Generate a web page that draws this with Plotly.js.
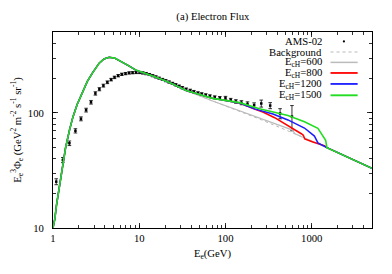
<!DOCTYPE html>
<html>
<head>
<meta charset="utf-8">
<script src="https://cdn.plot.ly/plotly-3.0.1.min.js"></script>
<style>
  html, body { margin: 0; padding: 0; background: #fff; }
  #plot { width: 392px; height: 274px; }
</style>
</head>
<body>
<div id="plot"></div>
<script>
/* AMS-02 electron flux E^3 * Phi */
var amsE = [1.09, 1.30, 1.55, 1.82, 2.11, 2.42, 2.76, 3.10, 3.45, 3.84, 4.27, 4.72, 5.17, 5.70, 6.28, 6.93, 7.63, 8.37, 9.2, 10.1,
  11.0, 12.0, 13.1, 14.3, 15.6, 17.0, 18.6, 20.3, 22.2, 24.3, 26.5, 29.0, 31.6, 35, 39, 43, 48, 53, 59, 66,
  75, 86, 100, 115, 132, 153, 180, 215, 260, 330, 430, 590];
var amsF = [25.3, 39, 54.6, 70, 89, 106, 124, 148, 161, 173, 185, 195, 204, 211, 217, 220, 223, 224, 225, 225,
  223, 220, 216, 211, 206, 201, 196, 191, 186, 181, 176, 171, 166, 161, 157, 153, 149, 146, 143, 140,
  137, 135, 135, 130, 126, 123, 120, 117, 121, 116, 99, 93];
var amsErr = [1.5, 2, 2.5, 3, 3.5, 4, 4.5, 5, 5, 5, 5, 5, 5, 5, 5, 5, 5, 5, 5, 5,
  5, 5, 4.5, 4.5, 4.5, 4, 4, 4, 4, 4, 4, 4, 4, 4, 4, 4, 4, 4, 4, 4,
  4, 4, 4.5, 4, 4.5, 5, 5, 5.5, 8.5, 7, 10, 23];

/* shared low-energy part of the model curves */
var lowE = [1.0, 1.05, 1.1, 1.2, 1.3, 1.4, 1.56, 1.7, 1.9, 2.19, 2.5, 2.86, 3.43, 3.9, 4.48, 5.2, 6.4, 7.5, 9.14, 11, 13.1, 17.1, 22, 28, 35];
var lowF = [10, 12, 16, 25, 36, 50, 72, 92, 118, 148, 188, 222, 271, 295, 305, 300, 278, 258, 236, 225, 214, 199, 185, 170, 157];

var bgE = [71, 146, 248, 552, 865, 1500, 5000];
var bgF = [127, 103, 88.6, 69, 60, 50, 33];

var c600E = [71, 146, 248, 400, 600, 640, 865, 1500, 5000];
var c600F = [127, 104, 90, 79, 71, 66, 60, 50, 33];

var c800E = [71, 146, 217, 271, 372, 424, 530, 757, 800, 830, 1030, 1400, 1500, 5000];
var c800F = [134, 122, 108, 102, 91, 86, 77, 66, 64, 59.5, 56, 52, 50, 33];

var c1200E = [71, 146, 217, 355, 530, 824, 1075, 1180, 1500, 5000];
var c1200F = [134, 122, 108.5, 98, 87, 74, 63, 55, 50, 33];

var c1500E = [71, 146, 248, 530, 824, 1180, 1350, 1450, 1500, 5000];
var c1500F = [134, 123, 109, 95, 84, 73.6, 63, 58, 50, 33];

var legendNames = ['AMS-02', 'Background', 'E<sub>cH</sub>=600', 'E<sub>cH</sub>=800', 'E<sub>cH</sub>=1200', 'E<sub>cH</sub>=1500'];
var legendColors = ['#000000', '#999999', '#bbbbbb', '#ff0000', '#1c1cff', '#22dd22'];

function join(a, b) { return a.concat(b); }

var FONT = 'Liberation Serif, Times New Roman, serif';

var traces = [
  { x: amsE, y: amsF, mode: 'markers', type: 'scatter',
    marker: { color: '#000', size: 2.5, symbol: 'square' },
    error_y: { type: 'data', array: amsErr, visible: true, color: '#000', thickness: 0.8, width: 1.8 } },
  { x: join(lowE, bgE), y: join(lowF, bgF), mode: 'lines', line: { color: legendColors[1], width: 0.7, dash: 'dot' } },
  { x: join(lowE, c600E), y: join(lowF, c600F), mode: 'lines', line: { color: legendColors[2], width: 1.2 } },
  { x: join(lowE, c800E), y: join(lowF, c800F), mode: 'lines', line: { color: legendColors[3], width: 1.5 } },
  { x: join(lowE, c1200E), y: join(lowF, c1200F), mode: 'lines', line: { color: legendColors[4], width: 1.5 } },
  { x: join(lowE, c1500E), y: join(lowF, c1500F), mode: 'lines', line: { color: legendColors[5], width: 1.6 } }
];

/* gnuplot-style key: text right-aligned, sample to its right */
var annotations = [], shapes = [];
var rowY = [0.952, 0.898, 0.845, 0.791, 0.735, 0.677];
legendNames.forEach(function (name, i) {
  annotations.push({ xref: 'paper', yref: 'paper', x: 0.849, y: rowY[i], xanchor: 'right', yanchor: 'middle',
    text: name, showarrow: false, font: { family: FONT, size: 10.7, color: '#000' } });
  if (i === 0) {
    shapes.push({ type: 'circle', xref: 'paper', yref: 'paper', xsizemode: 'pixel', ysizemode: 'pixel',
      xanchor: 0.912, yanchor: rowY[i], x0: -1.1, x1: 1.1, y0: -1.1, y1: 1.1,
      fillcolor: '#000', line: { width: 0 } });
  } else {
    shapes.push({ type: 'line', xref: 'paper', yref: 'paper', x0: 0.87, x1: 0.955, y0: rowY[i], y1: rowY[i],
      line: { color: legendColors[i], width: traces[i].line.width + (i === 1 ? 0 : 0.3), dash: i === 1 ? 'dot' : 'solid' } });
  }
});

var axisCommon = {
  type: 'log', showgrid: false, zeroline: false, showline: true, linecolor: '#000', linewidth: 1,
  mirror: 'allticks', ticks: 'inside', ticklen: 5, tickcolor: '#000', tickwidth: 0.8,
  dtick: 1, tickfont: { family: FONT, size: 10.7, color: '#000' },
  minor: { ticks: 'inside', ticklen: 3, tickcolor: '#000', tickwidth: 0.8, dtick: 'D1', showgrid: false },
  fixedrange: true
};

var layout = {
  width: 392, height: 274,
  margin: { l: 53, r: 20, t: 32, b: 46 },
  paper_bgcolor: '#fff', plot_bgcolor: '#fff',
  showlegend: false,
  font: { family: FONT, size: 10.7, color: '#000' },
  title: { text: '(a) Electron Flux', x: 0.543, xanchor: 'center', y: 0.94, yanchor: 'middle',
    font: { family: FONT, size: 10.7, color: '#000' } },
  xaxis: Object.assign({}, axisCommon, {
    range: [0, Math.log10(5000)], tickvals: [1, 10, 100, 1000], ticktext: ['1', '10', '100', '1000'],
    title: { text: 'E<sub>e</sub>(GeV)', standoff: 6, font: { family: FONT, size: 10.7 } }
  }),
  yaxis: Object.assign({}, axisCommon, {
    range: [1, Math.log10(506)], tickvals: [10, 100], ticktext: ['10', '100'], ticklabelstandoff: 6,
    title: { text: 'E<sub>e</sub><sup>3</sup>Φ<sub>e</sub> (GeV<sup>2</sup> m<sup>-2</sup> s<sup>-1</sup> sr<sup>-1</sup>)',
      standoff: 4, font: { family: FONT, size: 10.7 } }
  }),
  annotations: annotations,
  shapes: shapes
};

Plotly.newPlot('plot', traces, layout, { displayModeBar: false, staticPlot: true });
</script>
</body>
</html>
